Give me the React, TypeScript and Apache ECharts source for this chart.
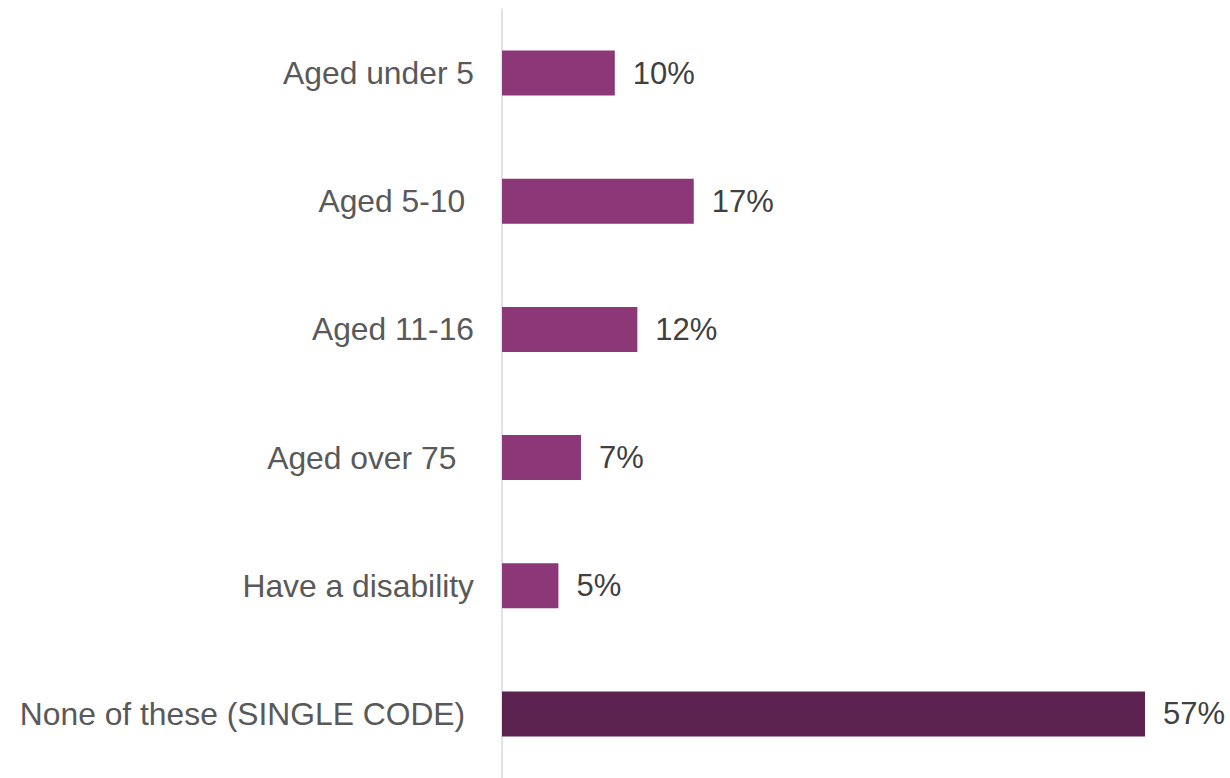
import React, { useEffect, useRef } from "react";
import * as echarts from "echarts";

const categories = [
  "Aged under 5",
  "Aged 5-10 ",
  "Aged 11-16",
  "Aged over 75  ",
  "Have a disability",
  "None of these (SINGLE CODE) ",
];
const values = [10, 17, 12, 7, 5, 57];
const barColors = ["#8B3778", "#8B3778", "#8B3778", "#8B3778", "#8B3778", "#5D2350"];

export default function App() {
  const ref = useRef<HTMLDivElement>(null);
  useEffect(() => {
    if (!ref.current) return;
    const chart = echarts.init(ref.current, null, { renderer: "svg" });
    chart.setOption({
      animation: false,
      backgroundColor: "#ffffff",
      grid: { left: 502, right: 85, top: 9, bottom: -2, containLabel: false },
      xAxis: {
        type: "value",
        min: 0,
        max: 57,
        show: false,
      },
      yAxis: {
        type: "category",
        inverse: true,
        data: categories.map((c) => c.replace(/ /g, "\u00a0")),
        axisLine: { show: true, lineStyle: { color: "#d9d9d9", width: 1.5 } },
        axisTick: { show: false },
        axisLabel: {
          margin: 28,
          color: "#595959",
          fontSize: 31.8,
          fontFamily: "'Liberation Sans', Arial, sans-serif",
        },
      },
      series: [
        {
          type: "bar",
          barWidth: 45,
          data: values.map((v, i) => ({ value: v, itemStyle: { color: barColors[i] } })),
          label: {
            show: true,
            position: "right",
            distance: 18,
            formatter: "{c}%",
            color: "#404040",
            fontSize: 31,
            fontFamily: "'Liberation Sans', Arial, sans-serif",
          },
        },
      ],
    });
    return () => chart.dispose();
  }, []);
  return (
    <div
      ref={ref}
      style={{ position: "absolute", left: 0, top: 0, width: 1230, height: 778 }}
    />
  );
}
